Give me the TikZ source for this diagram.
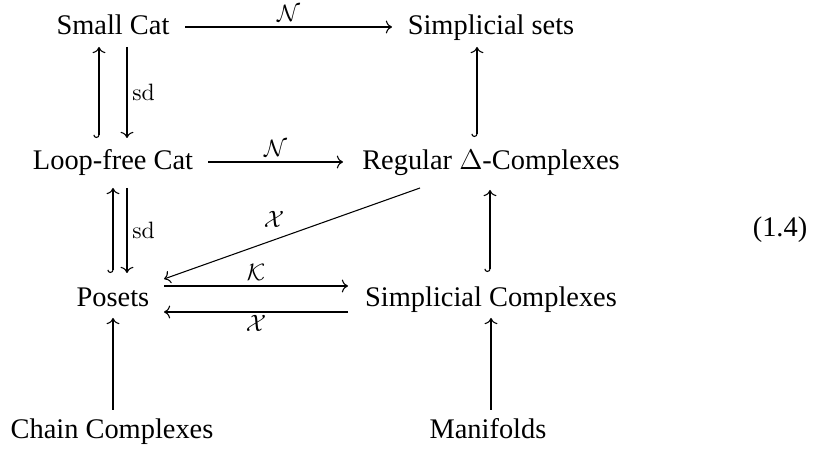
\documentclass[tikz,border=0pt]{standalone}
\usepackage[no-math]{fontspec}
\setmainfont{Liberation Serif}
\usetikzlibrary{arrows.meta,calc}
\begin{document}
\begin{tikzpicture}[x=0.4225pt,y=-0.4225pt,
  obj/.style={anchor=base,inner sep=0pt,font=\fontsize{12}{14}\selectfont},
  lbl/.style={font=\fontsize{10}{12}\selectfont, inner sep=2pt},
  arr/.style={-{Computer Modern Rightarrow[]}, line width=0.45pt},
  harr/.style={{Hooks[right]}-{Computer Modern Rightarrow[]}, line width=0.45pt}]
\useasboundingbox (0,0) rectangle (821,450);
\node[obj] (sc)  at (113,35)  {Small Cat};
\node[obj] (ss)  at (491,35)  {Simplicial sets};
\node[obj] (lf)  at (113,170) {Loop-free Cat};
\node[obj] (rd)  at (491,170) {Regular $\Delta$-Complexes};
\node[obj] (po)  at (113,307) {Posets};
\node[obj] (scx) at (491,307) {Simplicial Complexes};
\node[obj] (ch)  at (112,439) {Chain Complexes};
\node[obj] (mf)  at (488,439) {Manifolds};
\node[obj] (eq)  at (780,237) {(1.4)};
% horizontal
\draw[arr] ($(sc.base)+(72,-8)$) -- node[lbl,above]{$\mathcal{N}$} ($(ss.base)+(-99,-8)$);
\draw[arr] ($(lf.base)+(95,-8)$) -- node[lbl,above]{$\mathcal{N}$} ($(rd.base)+(-148,-8)$);
\draw[arr] ($(po.base)+(51,-21)$) -- node[lbl,above]{$\mathcal{K}$} ($(scx.base)+(-143,-21)$);
\draw[arr] ($(scx.base)+(-143,5)$) -- node[lbl,below,inner sep=1pt]{$\mathcal{X}$} ($(po.base)+(51,5)$);
\draw[arr] ($(rd.base)+(-71,18)$) -- node[lbl,above=3pt,pos=0.57]{$\mathcal{X}$} ($(po.base)+(51,-28)$);
% column 1
\draw[harr] ($(lf.base)+(-14,-32)$) -- ($(sc.base)+(-14,12)$);
\draw[arr] ($(sc.base)+(14,12)$) -- node[lbl,right]{$\mathrm{sd}$} ($(lf.base)+(14,-32)$);
\draw[harr] ($(po.base)+(0,-34)$) -- ($(lf.base)+(0,18)$);
\draw[arr] ($(lf.base)+(14,18)$) -- node[lbl,right]{$\mathrm{sd}$} ($(po.base)+(14,-34)$);
\draw[arr] ($(ch.base)+(1,-29)$) -- ($(po.base)+(0,11)$);
% column 2
\draw[harr] ($(rd.base)+(-14,-33)$) -- ($(ss.base)+(-14,12)$);
\draw[harr] ($(scx.base)+(-1,-35)$) -- ($(rd.base)+(-1,20)$);
\draw[arr] ($(mf.base)+(3,-29)$) -- ($(scx.base)+(0,11)$);
\end{tikzpicture}
\end{document}
